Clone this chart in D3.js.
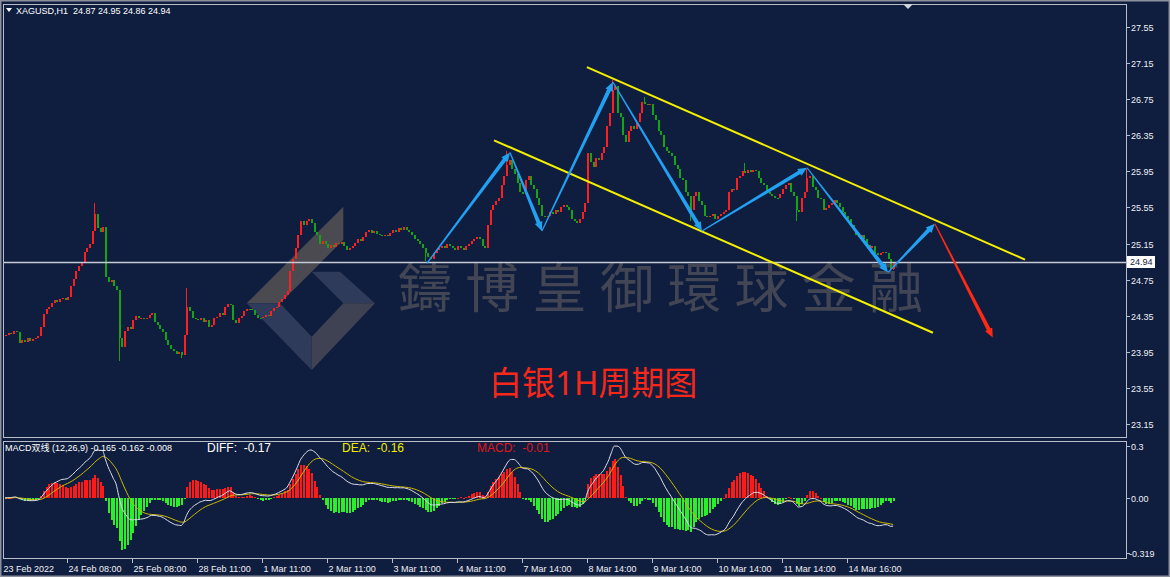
<!DOCTYPE html>
<html>
<head>
<meta charset="utf-8">
<title>XAGUSD H1</title>
<script src="https://cdn.jsdelivr.net/npm/d3@7/dist/d3.min.js"></script>
<style>
  html, body { margin: 0; padding: 0; background: #0f1d3e; }
  svg { display: block; }
</style>
</head>
<body>
<div id="chart"></div>
<script>
// XAGUSD H1 closes (open = previous close)
const closes = [
  24.14, 24.16, 24.15, 24.18, 24.17, 24.05, 24.08, 24.06, 24.10, 24.07,
  24.09, 24.10, 24.12, 24.22, 24.37, 24.42, 24.45, 24.49, 24.52, 24.50,
  24.53, 24.55, 24.52, 24.56, 24.68, 24.76, 24.85, 24.90, 24.94, 25.06,
  25.10, 25.14, 25.29, 25.48, 25.32, 25.28, 25.33, 24.78, 24.72, 24.75,
  24.68, 24.64, 24.10, 24.00, 24.18, 24.22, 24.20, 24.30, 24.35, 24.32,
  24.33, 24.31, 24.33, 24.36, 24.38, 24.28, 24.25, 24.20, 24.17, 24.08,
  24.03, 23.98, 23.96, 23.93, 23.95, 23.92, 24.14, 24.45, 24.40, 24.33,
  24.31, 24.30, 24.32, 24.28, 24.30, 24.22, 24.25, 24.32, 24.34, 24.38,
  24.36, 24.45, 24.48, 24.47, 24.30, 24.27, 24.32, 24.35, 24.40, 24.43,
  24.42, 24.41, 24.36, 24.33, 24.32, 24.34, 24.36, 24.35, 24.40, 24.44,
  24.45, 24.50, 24.53, 24.58, 24.62, 24.85, 24.98, 25.10, 25.25, 25.40,
  25.36, 25.40, 25.42, 25.38, 25.28, 25.24, 25.15, 25.18, 25.14, 25.10,
  25.13, 25.11, 25.16, 25.14, 25.17, 25.12, 25.08, 25.10, 25.12, 25.16,
  25.20, 25.18, 25.22, 25.28, 25.30, 25.27, 25.29, 25.26, 25.25, 25.24,
  25.25, 25.23, 25.27, 25.30, 25.28, 25.32, 25.30, 25.33, 25.30, 25.28,
  25.24, 25.20, 25.18, 25.15, 25.10, 25.05, 25.00, 24.98, 25.05, 25.08,
  25.10, 25.12, 25.10, 25.14, 25.12, 25.10, 25.08, 25.12, 25.10, 25.08,
  25.12, 25.15, 25.18, 25.20, 25.22, 25.20, 25.12, 25.10, 25.35, 25.52,
  25.58, 25.62, 25.66, 25.80, 25.90, 26.02, 26.08, 25.98, 25.92, 25.82,
  25.72, 25.70, 25.85, 25.90, 25.80, 25.75, 25.65, 25.58, 25.46, 25.44,
  25.46, 25.50, 25.48, 25.52, 25.50, 25.55, 25.58, 25.55, 25.52, 25.42,
  25.40, 25.38, 25.42, 25.50, 25.60, 26.15, 26.05, 26.00, 26.10, 26.08,
  26.15, 26.22, 26.45, 26.60, 26.85, 26.90, 26.60, 26.55, 26.35, 26.28,
  26.40, 26.45, 26.42, 26.50, 26.60, 26.72, 26.70, 26.68, 26.70, 26.58,
  26.52, 26.40, 26.35, 26.22, 26.18, 26.15, 26.12, 26.02, 25.98, 25.88,
  25.85, 25.72, 25.68, 25.52, 25.68, 25.72, 25.62, 25.58, 25.46, 25.44,
  25.46, 25.48, 25.42, 25.46, 25.48, 25.50, 25.52, 25.72, 25.76, 25.74,
  25.88, 25.90, 25.95, 25.93, 25.96, 25.94, 25.97, 25.95, 25.88, 25.82,
  25.80, 25.72, 25.70, 25.68, 25.66, 25.65, 25.70, 25.75, 25.80, 25.82,
  25.72, 25.68, 25.52, 25.50, 25.65, 25.72, 25.88, 25.90, 25.78, 25.74,
  25.66, 25.64, 25.52, 25.54, 25.58, 25.60, 25.63, 25.60, 25.55, 25.50,
  25.46, 25.42, 25.35, 25.30, 25.25, 25.22, 25.24, 25.20, 25.13, 25.10,
  25.12, 25.04, 25.02, 25.05, 25.06, 25.05, 24.98, 24.87, 24.94
];
const firstOpen = 24.12;

// visible wicks that stick out of the bodies: [bar, price]
const upperWicks = [[33, 25.60], [67, 24.66], [185, 26.18], [224, 26.96], [236, 26.77], [273, 26.04], [296, 25.98], [328, 24.95]];
const lowerWicks = [[42, 23.85], [65, 23.88], [155, 24.96], [253, 25.40], [292, 25.40], [328, 24.86]];

const priceTicks = [27.55, 27.15, 26.75, 26.35, 25.95, 25.55, 25.15, 24.75, 24.35, 23.95, 23.55, 23.15];
const lastPrice = 24.94;
const lastBar = { open: "24.87", high: "24.95", low: "24.86", close: "24.94" };

const timeLabelBars = [0, 23, 47, 71, 95, 119, 143, 167, 191, 215, 239, 263, 287, 311];
const timeLabels = [
  "23 Feb 2022", "24 Feb 08:00", "25 Feb 08:00", "28 Feb 11:00", "1 Mar 11:00",
  "2 Mar 11:00", "3 Mar 11:00", "4 Mar 11:00", "7 Mar 14:00", "8 Mar 14:00",
  "9 Mar 14:00", "10 Mar 14:00", "11 Mar 14:00", "14 Mar 16:00"
];

const macdTicks = [0.3, 0, -0.319];
const macdTickLabels = ["0.3", "0.00", "-0.319"];
const macdReadout = { diff: "-0.165", dea: "-0.162", macd: "-0.008" };

// drawn objects, in bar index / price
const zigBars = [155.8, 186.5, 198.3, 224.5, 257.4, 296.2, 326.1, 343.4];
const zigPrices = [24.93, 26.16, 25.29, 26.94, 25.29, 25.99, 24.83, 25.37];
const projection = { bar: 364.8, price: 24.11 };
const channelUpper = [[214.9, 27.106], [376.7, 24.972]];
const channelLower = [[180.6, 26.294], [342.7, 24.161]];

(function () {
  const width = 1170;
  const height = 577;
  const bg = "#0f1d3e";
  const frame = "#b9bdc8";
  const upColor = "#ff1f1f";
  const downColor = "#17a317";
  const axisFont = "'Liberation Sans', 'Noto Sans CJK SC', sans-serif";

  const main = { left: 3, right: 1126, top: 4, bottom: 437 };
  const sub = { left: 3, right: 1126, top: 441, bottom: 558 };

  const svg = d3.select("#chart")
    .append("svg")
    .attr("width", width)
    .attr("height", height);

  svg.append("rect").attr("width", width).attr("height", height).attr("fill", bg);
  svg.append("rect")
    .attr("x", 0.5).attr("y", 0.5)
    .attr("width", width - 1).attr("height", height - 1)
    .attr("fill", "none").attr("stroke", "#8c909c").attr("stroke-width", 2);

  const x = d3.scaleLinear().domain([0, 414]).range([5, 1126]);
  const y = d3.scaleLinear().domain([23.15, 27.55]).range([424, 27]);
  const yM = d3.scaleLinear().domain([-0.319, 0.3]).range([553.3, 446]);

  const defs = svg.append("defs");
  defs.append("clipPath").attr("id", "clip-main")
    .append("rect")
    .attr("x", main.left).attr("y", main.top)
    .attr("width", main.right - main.left).attr("height", main.bottom - main.top);
  defs.append("clipPath").attr("id", "clip-sub")
    .append("rect")
    .attr("x", sub.left).attr("y", sub.top)
    .attr("width", sub.right - sub.left).attr("height", sub.bottom - sub.top);

  // watermark: logo + company name, under everything else
  const wm = svg.append("g").attr("clip-path", "url(#clip-main)");
  const logoParts = [
    { fill: "#4a4a50", pts: [[246.7, 303.3], [343.3, 206.7], [343.3, 240], [311.7, 271.7], [280, 303.3]] },
    { fill: "#2f3b5a", pts: [[311.7, 271.7], [340, 271.7], [375, 303.3], [343.3, 303.3]] },
    { fill: "#2f3b5a", pts: [[246.7, 303.3], [280, 303.3], [311.7, 336.7], [311.7, 370]] },
    { fill: "#3f4252", pts: [[311.7, 336.7], [343.3, 303.3], [375, 303.3], [311.7, 370]] }
  ];
  wm.selectAll("polygon.logo")
    .data(logoParts)
    .join("polygon")
    .attr("class", "logo")
    .attr("points", (d) => d.pts.map((p) => p.join(",")).join(" "))
    .attr("fill", (d) => d.fill);
  wm.append("text")
    .attr("x", 398).attr("y", 308)
    .attr("font-family", "'Noto Sans CJK TC', 'Noto Sans CJK SC', sans-serif")
    .attr("font-size", 54)
    .attr("letter-spacing", 13.3)
    .attr("fill", "#414554")
    .text("鑄博皇御環球金融");

  // candles
  const bars = closes.map((c, i) => {
    const open = i === 0 ? firstOpen : closes[i - 1];
    return { i, open, close: c, high: Math.max(open, c), low: Math.min(open, c) };
  });
  upperWicks.forEach(([i, v]) => { bars[i].high = Math.max(bars[i].high, v); });
  lowerWicks.forEach(([i, v]) => { bars[i].low = Math.min(bars[i].low, v); });

  const candles = svg.append("g").attr("clip-path", "url(#clip-main)").attr("shape-rendering", "crispEdges");
  const candle = candles.selectAll("g")
    .data(bars)
    .join("g")
    .attr("fill", (d) => (d.close >= d.open ? upColor : downColor));
  candle.append("rect")
    .attr("x", (d) => Math.round(x(d.i)))
    .attr("width", 1)
    .attr("y", (d) => Math.round(y(d.high)))
    .attr("height", (d) => Math.max(1, Math.round(y(d.low)) - Math.round(y(d.high))));
  candle.append("rect")
    .attr("x", (d) => Math.round(x(d.i)) - 0.5)
    .attr("width", 2)
    .attr("y", (d) => Math.round(y(Math.max(d.open, d.close))))
    .attr("height", (d) => Math.max(1, Math.round(y(Math.min(d.open, d.close))) - Math.round(y(Math.max(d.open, d.close)))));

  // last price line
  svg.append("line")
    .attr("x1", main.left).attr("x2", main.right)
    .attr("y1", Math.round(y(lastPrice)) + 0.5).attr("y2", Math.round(y(lastPrice)) + 0.5)
    .attr("stroke", "#c8cbd4").attr("stroke-width", 1.5);

  // trend channel
  const overlay = svg.append("g").attr("clip-path", "url(#clip-main)");
  [channelUpper, channelLower].forEach((seg) => {
    overlay.append("line")
      .attr("x1", x(seg[0][0])).attr("y1", y(seg[0][1]))
      .attr("x2", x(seg[1][0])).attr("y2", y(seg[1][1]))
      .attr("stroke", "#f5f000").attr("stroke-width", 2);
  });

  function taperArrow(x0, y0, x1, y1, color, w0, w1, headLen, headW) {
    const dx = x1 - x0;
    const dy = y1 - y0;
    const len = Math.hypot(dx, dy);
    const ux = dx / len, uy = dy / len;
    const nx = -uy, ny = ux;
    const bx = x1 - ux * headLen, by = y1 - uy * headLen;
    const pts = [
      [x0 + nx * w0 / 2, y0 + ny * w0 / 2],
      [bx + nx * w1 / 2, by + ny * w1 / 2],
      [bx + nx * headW / 2, by + ny * headW / 2],
      [x1, y1],
      [bx - nx * headW / 2, by - ny * headW / 2],
      [bx - nx * w1 / 2, by - ny * w1 / 2],
      [x0 - nx * w0 / 2, y0 - ny * w0 / 2]
    ];
    overlay.append("polygon")
      .attr("points", pts.map((p) => p.join(",")).join(" "))
      .attr("fill", color);
  }

  for (let k = 0; k < zigBars.length - 1; k++) {
    taperArrow(
      x(zigBars[k]), y(zigPrices[k]), x(zigBars[k + 1]), y(zigPrices[k + 1]),
      "#22a0f2", 1.2, 4, 9, 8
    );
  }
  taperArrow(
    x(zigBars[zigBars.length - 1]), y(zigPrices[zigPrices.length - 1]),
    x(projection.bar), y(projection.price),
    "#ff2a14", 1.2, 4, 9, 8
  );

  overlay.append("text")
    .attr("x", 489).attr("y", 395)
    .attr("font-family", "'Noto Sans', 'Noto Sans CJK SC', sans-serif")
    .attr("font-size", 33)
    .attr("fill", "#f5281a")
    .text("白银1H周期图");

  // MACD (12,26,9) from the closes
  const ema = (arr, n) => {
    const k = 2 / (n + 1);
    const out = [];
    arr.forEach((v, i) => out.push(i === 0 ? v : v * k + out[i - 1] * (1 - k)));
    return out;
  };
  const ema12 = ema(closes, 12);
  const ema26 = ema(closes, 26);
  const diff = closes.map((c, i) => ema12[i] - ema26[i]);
  const dea = ema(diff, 9);
  const hist = diff.map((d, i) => 2 * (d - dea[i]));

  const subG = svg.append("g").attr("clip-path", "url(#clip-sub)");
  subG.append("g").attr("shape-rendering", "crispEdges")
    .selectAll("rect")
    .data(hist)
    .join("rect")
    .attr("x", (d, i) => Math.round(x(i)) - 0.5)
    .attr("width", 2)
    .attr("y", (d) => Math.round(Math.min(yM(d), yM(0))))
    .attr("height", (d) => Math.max(1, Math.round(Math.abs(yM(d) - yM(0)))))
    .attr("fill", (d) => (d >= 0 ? "#ff1a1a" : "#2bef2b"));

  const macdLine = d3.line().x((d, i) => x(i)).y((d) => yM(d)).curve(d3.curveMonotoneX);
  subG.append("path").attr("d", macdLine(dea))
    .attr("fill", "none").attr("stroke", "#cdb800").attr("stroke-width", 1);
  subG.append("path").attr("d", macdLine(diff))
    .attr("fill", "none").attr("stroke", "#dcdce8").attr("stroke-width", 1);

  // frames
  [main, sub].forEach((p) => {
    svg.append("rect")
      .attr("x", p.left + 0.5).attr("y", p.top + 0.5)
      .attr("width", p.right - p.left).attr("height", p.bottom - p.top)
      .attr("fill", "none").attr("stroke", frame).attr("stroke-width", 1);
  });
  svg.append("path")
    .attr("d", "M903,4 L913,4 L908,9 Z")
    .attr("fill", "#d0d3da");

  // price axis
  const pAxis = svg.append("g").attr("font-family", axisFont).attr("font-size", 9).attr("fill", "#f0f0f4");
  const pt = pAxis.selectAll("g").data(priceTicks).join("g")
    .attr("transform", (d) => `translate(0,${Math.round(y(d)) + 0.5})`);
  pt.append("line").attr("x1", main.right + 1).attr("x2", main.right + 4).attr("stroke", frame);
  pt.append("text").attr("x", 1131).attr("dy", "0.35em").text((d) => d.toFixed(2));

  const lp = svg.append("g").attr("transform", `translate(1127,${Math.round(y(lastPrice))})`);
  lp.append("rect").attr("x", 0).attr("y", -6).attr("width", 28).attr("height", 12).attr("fill", "#ffffff");
  lp.append("text").attr("x", 3).attr("dy", "0.35em")
    .attr("font-family", axisFont).attr("font-size", 9).attr("fill", bg)
    .text(lastPrice.toFixed(2));

  const mAxis = svg.append("g").attr("font-family", axisFont).attr("font-size", 9).attr("fill", "#f0f0f4");
  const mt = mAxis.selectAll("g").data(macdTicks).join("g")
    .attr("transform", (d) => `translate(0,${Math.round(yM(d)) + 0.5})`);
  mt.append("line").attr("x1", sub.right + 1).attr("x2", sub.right + 4).attr("stroke", frame);
  mt.append("text").attr("x", (d, i) => (i === 2 ? 1129 : 1131)).attr("dy", "0.35em")
    .text((d, i) => macdTickLabels[i]);

  // time axis
  const tAxis = svg.append("g").attr("font-family", axisFont).attr("font-size", 9).attr("fill", "#f0f0f4");
  const tt = tAxis.selectAll("g").data(timeLabelBars).join("g")
    .attr("transform", (d) => `translate(${Math.round(x(d)) + 0.5},0)`);
  tt.append("line").attr("y1", sub.bottom + 1).attr("y2", sub.bottom + 5).attr("stroke", frame)
    .attr("opacity", (d, i) => (i === 0 ? 0 : 1));
  tt.append("text").attr("x", (d, i) => (i === 0 ? -2 : 1)).attr("y", 572)
    .text((d, i) => timeLabels[i]);

  // headers
  svg.append("path").attr("d", "M6,8 L12,8 L9,12 Z").attr("fill", "#ffffff");
  svg.append("text")
    .attr("x", 16).attr("y", 13.5)
    .attr("font-family", axisFont).attr("font-size", 9).attr("fill", "#ffffff")
    .attr("xml:space", "preserve")
    .text(`XAGUSD,H1  ${lastBar.open} ${lastBar.high} ${lastBar.low} ${lastBar.close}`);

  svg.append("text")
    .attr("x", 5).attr("y", 450.5)
    .attr("font-family", axisFont).attr("font-size", 9).attr("fill", "#ffffff")
    .text(`MACD双线 (12,26,9) ${macdReadout.diff} ${macdReadout.dea} ${macdReadout.macd}`);

  const readouts = [
    { x: 207, label: "DIFF:", value: (+macdReadout.diff).toFixed(2), color: "#ffffff" },
    { x: 342, label: "DEA:", value: (+macdReadout.dea).toFixed(2), color: "#f2ee00" },
    { x: 477, label: "MACD:", value: (+macdReadout.macd).toFixed(2), color: "#e0161a" }
  ];
  svg.selectAll("text.readout")
    .data(readouts)
    .join("text")
    .attr("class", "readout")
    .attr("x", (d) => d.x).attr("y", 451.5)
    .attr("font-family", "'Liberation Sans', Arial, sans-serif")
    .attr("font-size", 12)
    .attr("fill", (d) => d.color)
    .attr("xml:space", "preserve")
    .text((d) => `${d.label}  ${d.value}`);
})();
</script>
</body>
</html>
